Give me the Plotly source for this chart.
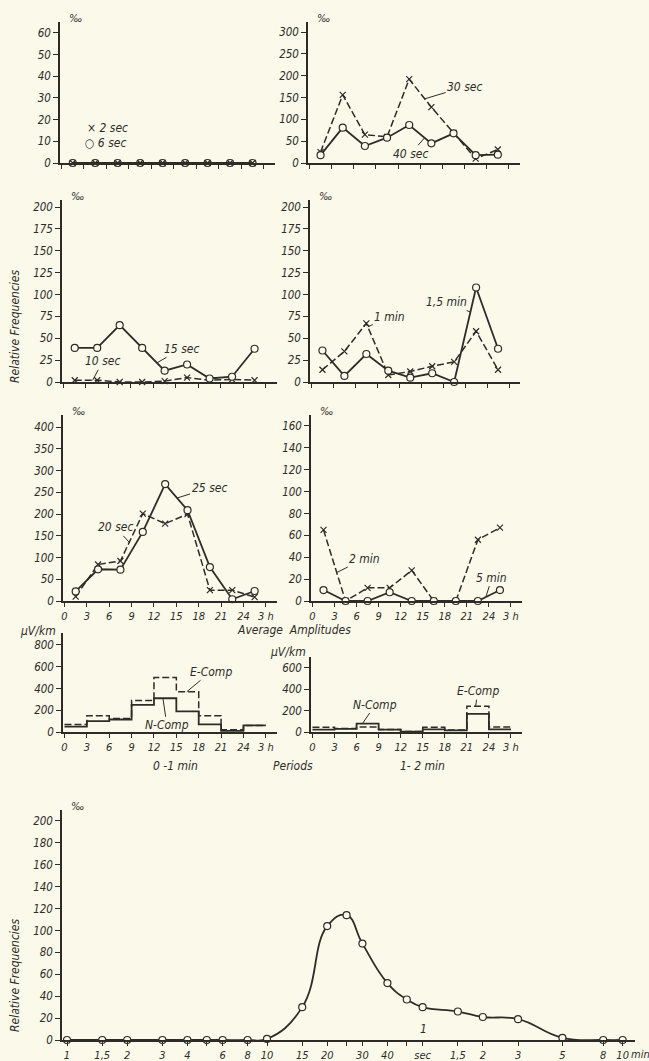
import plotly.graph_objects as go

W, H = 649, 1061
INK = "#2e2c28"
PAPER = "#fbf9ea"
FONT = "Liberation Sans Narrow, DejaVu Sans Condensed, Liberation Sans, sans-serif"

# 3-hour bins (midpoints for the frequency curves, edges for the amplitude steps)
hours = [1.5, 4.5, 7.5, 10.5, 13.5, 16.5, 19.5, 22.5, 25.5]
bin_edges = [0, 3, 6, 9, 12, 15, 18, 21, 24, 27]
hour_ticks = [0, 3, 6, 9, 12, 15, 18, 21, 24, 27]
hour_text = ["0", "3", "6", "9", "12", "15", "18", "21", "24", "3 h"]

# relative frequencies (per mille) by period
f_2sec = [0, 0, 0, 0, 0, 0, 0, 0, 0]
f_6sec = [0, 0, 0, 0, 0, 0, 0, 0, 0]
f_30sec = [25, 156, 65, 60, 192, 128, 69, 10, 31]
f_40sec = [18, 81, 39, 58, 87, 45, 68, 18, 19]
f_10sec = [2, 2, 0, 0, 1, 5, 2, 3, 2]
f_15sec = [39, 39, 65, 39, 13, 20, 4, 6, 38]
f_1min = [14, 35, 67, 8, 12, 18, 23, 58, 14]
f_15min = [36, 7, 32, 13, 5, 10, 0, 108, 38]
f_20sec = [10, 84, 92, 201, 178, 200, 25, 25, 9]
f_25sec = [22, 73, 72, 159, 269, 209, 78, 4, 23]
f_2min = [65, 0, 12, 12, 28, 0, 0, 56, 67]
f_5min = [10, 0, 0, 8, 0, 0, 0, 0, 10]

# average amplitudes (microvolt/km)
e_comp_01 = [70, 150, 125, 290, 500, 370, 150, 20, 60]
n_comp_01 = [50, 100, 115, 250, 310, 190, 70, 10, 60]
e_comp_12 = [45, 33, 48, 24, 5, 45, 18, 242, 48]
n_comp_12 = [22, 30, 79, 22, 3, 24, 15, 170, 24]

# overall period spectrum
periods = [1, 1.5, 2, 3, 4, 5, 6, 8, 10, 15, 20, 25, 30, 40, 50, 60, 90, 120, 180, 300, 480, 600]
spectrum = [0, 0, 0, 0, 0, 0, 0, 0, 1, 30, 104, 114, 88, 52, 37, 30, 26, 21, 19, 2, 0, 0]
period_ticks = [1, 1.5, 2, 3, 4, 5, 6, 8, 10, 15, 20, 25, 30, 40, 50, 60, 90, 120, 180, 300, 480, 600]
period_text = ["1", "1,5", "2", "3", "4", "", "6", "8", "10", "15", "20", "", "30", "40", "",
               "sec", "1,5", "2", "3", "5", "8", "10"]


def dx(a, b):
    return [a / W, b / W]


def dy(top, bottom):
    return [1 - bottom / H, 1 - top / H]


# panel boxes in pixels: x=(left, right), y=(top, bottom); y range and tick step
panels = [
    dict(x=(60, 275), y=(22, 163), yr=[0, 65], dt=10, lab=False, pm=True),
    dict(x=(308, 520), y=(22, 163), yr=[0, 323], dt=50, lab=False, pm=True),
    dict(x=(62, 277), y=(200, 382), yr=[0, 208], dt=25, lab=False, pm=True),
    dict(x=(310, 520), y=(200, 382), yr=[0, 208], dt=25, lab=False, pm=True),
    dict(x=(63, 277), y=(415, 601), yr=[0, 428], dt=50, lab=True, pm=True),
    dict(x=(311, 522), y=(415, 601), yr=[0, 170], dt=20, lab=True, pm=True),
    dict(x=(63, 277), y=(633, 732), yr=[0, 910], dt=200, lab=True, pm=False),
    dict(x=(311, 522), y=(657, 732), yr=[0, 703], dt=200, lab=True, pm=False),
    dict(x=(62, 635), y=(810, 1040), yr=[0, 210], dt=20, lab=True, pm=True),
]

fig = go.Figure()
layout = {}
for i, p in enumerate(panels):
    n = "" if i == 0 else str(i + 1)
    xa = dict(domain=dx(*p["x"]), anchor="y" + n, showline=True, linecolor=INK, linewidth=1.5,
              ticks="outside", ticklen=4, tickwidth=1.2, tickcolor=INK, showgrid=False,
              zeroline=False, automargin=False, tickfont=dict(size=11, color=INK))
    if i < 8:
        xa.update(range=[-0.2, 28.5], tickmode="array", tickvals=hour_ticks,
                  ticktext=hour_text, showticklabels=p["lab"])
    else:
        xa.update(type="log", range=[-0.025, 2.84], tickmode="array",
                  tickvals=period_ticks, ticktext=period_text)
    ya = dict(domain=dy(*p["y"]), anchor="x" + n, range=p["yr"], tick0=0, dtick=p["dt"],
              showline=True, linecolor=INK, linewidth=1.5, ticks="outside", ticklen=5,
              tickwidth=1.2, tickcolor=INK, showgrid=False, zeroline=False,
              automargin=False, tickfont=dict(size=11.5, color=INK))
    layout["xaxis" + n] = xa
    layout["yaxis" + n] = ya


def curve(x, y, k, dashed, marker, shape="linear"):
    n = "" if k == 1 else str(k)
    line = dict(color=INK, width=1.5 if dashed else 1.8, shape=shape)
    if dashed:
        line["dash"] = "7px,3px"
    if shape == "spline":
        line["smoothing"] = 1.3
    if marker == "o":
        mk = dict(symbol="circle", size=7, color=PAPER, line=dict(color=INK, width=1.2))
    elif marker == "x":
        mk = dict(symbol="x-thin", size=6, line=dict(color=INK, width=1.2))
    else:
        mk = None
    fig.add_trace(go.Scatter(x=x, y=y, xaxis="x" + n, yaxis="y" + n,
                             mode="lines+markers" if mk else "lines",
                             line=line, marker=mk, cliponaxis=False,
                             showlegend=False, hoverinfo="skip"))


def steps(vals):
    return list(vals) + [vals[-1]]


curve(hours, f_6sec, 1, False, "o")
curve(hours, f_2sec, 1, False, "x")
curve(hours, f_30sec, 2, True, "x")
curve(hours, f_40sec, 2, False, "o")
curve(hours, f_10sec, 3, True, "x")
curve(hours, f_15sec, 3, False, "o")
curve(hours, f_1min, 4, True, "x")
curve(hours, f_15min, 4, False, "o")
curve(hours, f_20sec, 5, True, "x")
curve(hours, f_25sec, 5, False, "o")
curve(hours, f_2min, 6, True, "x")
curve(hours, f_5min, 6, False, "o")
curve(bin_edges, steps(e_comp_01), 7, True, None, "hv")
curve(bin_edges, steps(n_comp_01), 7, False, None, "hv")
curve(bin_edges, steps(e_comp_12), 8, True, None, "hv")
curve(bin_edges, steps(n_comp_12), 8, False, None, "hv")
curve(periods, spectrum, 9, False, "o", "spline")

ann = []


def label(text, k, x, y, ax, ay):
    n = "" if k == 1 else str(k)
    ann.append(dict(text=text, xref="x" + n, yref="y" + n, x=x, y=y, ax=ax, ay=ay,
                    showarrow=True, arrowhead=0, arrowwidth=1, arrowcolor=INK,
                    standoff=0, font=dict(size=12, color=INK)))


def note(text, px, py, size=12, angle=0):
    ann.append(dict(text=text, xref="paper", yref="paper", x=px / W, y=1 - py / H,
                    xanchor="center", yanchor="middle", showarrow=False,
                    textangle=angle, font=dict(size=size, color=INK)))


label("30 sec", 2, 15.6, 147, 40, -12)
label("40 sec", 2, 15.6, 58, -14, 16)
label("15 sec", 3, 12.5, 22, 24, -14)
label("10 sec", 3, 3.9, 2, 10, -19)
label("1 min", 4, 7.7, 63, 22, -10)
label("1,5 min", 4, 21.7, 80, -24, -10)
label("25 sec", 5, 15.1, 237, 32, -10)
label("20 sec", 5, 8.7, 135, -14, -15)
label("2 min", 6, 3.3, 26, 28, -14)
label("5 min", 6, 23.6, 4, 6, -19)
label("E-Comp", 7, 16.4, 370, 24, -20)
label("N-Comp", 7, 13.2, 310, 4, 27)
label("N-Comp", 8, 6.8, 79, 13, -19)
label("E-Comp", 8, 22.2, 242, 2, -15)

note("× 2 sec", 107, 128)
note("○ 6 sec", 106, 143)
for p in panels:
    if p["pm"]:
        note("‰", p["x"][0] + 15, p["y"][0] - 4, size=11)
note("Relative Frequencies", 15, 326, angle=-90)
note("Relative Frequencies", 15, 975, angle=-90)
note("Average  Amplitudes", 294, 630)
note("µV/km", 38, 631)
note("µV/km", 288, 652)
note("0 -1 min", 175, 766)
note("Periods", 293, 766)
note("1- 2 min", 422, 766)
note("1", 423, 1029)
note("min", 640, 1054, size=11)

fig.update_layout(**layout)
fig.update_layout(width=W, height=H, margin=dict(l=0, r=0, t=0, b=0),
                  paper_bgcolor=PAPER, plot_bgcolor=PAPER, annotations=ann,
                  font=dict(family=FONT, size=12, color=INK, style="italic"))
fig.write_html("out.html", config={"displayModeBar": False},
               post_script="document.body.style.margin='0';"
                           "document.body.style.overflow='hidden';"
                           "document.body.style.background='" + PAPER + "';")
